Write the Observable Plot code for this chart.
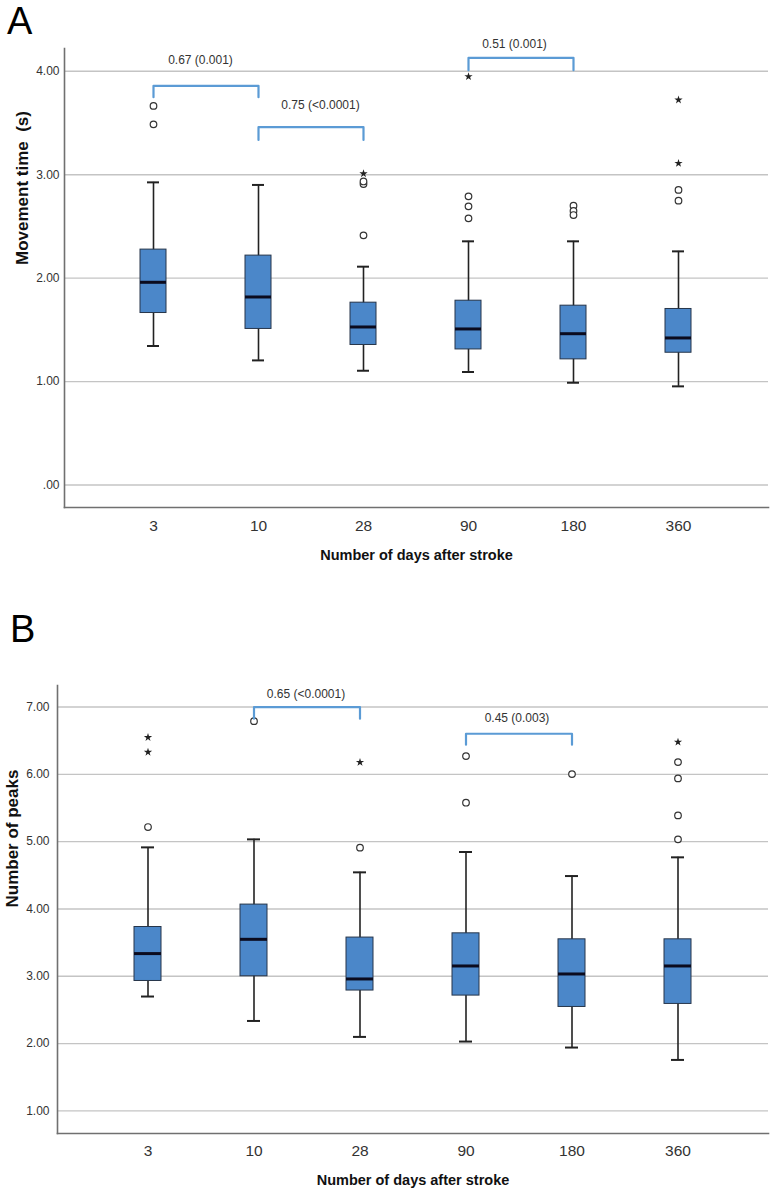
<!DOCTYPE html>
<html>
<head>
<meta charset="utf-8">
<script src="https://cdn.jsdelivr.net/npm/d3@7"></script>
<script src="https://cdn.jsdelivr.net/npm/@observablehq/plot@0.6"></script>
<style>
  body { margin: 0; background: #fff; font-family: "Liberation Sans", Arial, sans-serif; }
  .panel { position: relative; width: 773px; }
  .panel svg { display: block; }
  .letter { position: absolute; font-size: 38px; line-height: 38px; color: #000; font-family: "Liberation Sans", Arial, sans-serif; z-index: 2; }
</style>
</head>
<body>
<div id="panelA" class="panel"><div class="letter" style="left:7px;top:2px">A</div></div>
<div id="panelB" class="panel"><div class="letter" style="left:10px;top:30px">B</div></div>
<script>
// ---------- shared ----------
const days = ["3", "10", "28", "90", "180", "360"];
const xTitle = "Number of days after stroke";

// ---------- Panel A: Movement time (s) ----------
const mtTicks = [0, 1, 2, 3, 4];
const mtTickLabels = [".00", "1.00", "2.00", "3.00", "4.00"];
const mtLow    = [1.344, 1.205, 1.105, 1.093, 0.989, 0.954];
const mtQ1     = [1.663, 1.509, 1.354, 1.311, 1.215, 1.279];
const mtMedian = [1.960, 1.818, 1.528, 1.509, 1.463, 1.422];
const mtQ3     = [2.276, 2.218, 1.763, 1.782, 1.734, 1.702];
const mtHigh   = [2.926, 2.901, 2.111, 2.356, 2.356, 2.259];
const mtCircles = [["3", 3.665], ["3", 3.487], ["28", 2.414], ["28", 2.910], ["28", 2.935],
                   ["90", 2.791], ["90", 2.694], ["90", 2.578], ["180", 2.700], ["180", 2.650], ["180", 2.610],
                   ["360", 2.853], ["360", 2.749]];
const mtStars = [["28", 3.010], ["90", 3.949], ["360", 3.723], ["360", 3.110]];
const mtBrackets = [
  {from: "3", to: "10", top: 3.859, leg: 3.749, label: "0.67 (0.001)"},
  {from: "10", to: "28", top: 3.459, leg: 3.336, label: "0.75 (<0.0001)"},
  {from: "90", to: "180", top: 4.130, leg: 4.010, label: "0.51 (0.001)"}
];

// ---------- Panel B: Number of peaks ----------
const pkTicks = [1, 2, 3, 4, 5, 6, 7];
const pkTickLabels = ["1.00", "2.00", "3.00", "4.00", "5.00", "6.00", "7.00"];
const pkLow    = [2.699, 2.336, 2.099, 2.030, 1.941, 1.757];
const pkQ1     = [2.930, 3.000, 2.788, 2.713, 2.544, 2.589];
const pkMedian = [3.337, 3.549, 2.960, 3.153, 3.034, 3.153];
const pkQ3     = [3.732, 4.065, 3.575, 3.638, 3.549, 3.549];
const pkHigh   = [4.915, 5.034, 4.544, 4.846, 4.489, 4.767];
const pkCircles = [["3", 5.217], ["10", 6.790], ["28", 4.911], ["90", 6.271], ["90", 5.579],
                   ["180", 6.004], ["360", 6.182], ["360", 5.940], ["360", 5.390], ["360", 5.034]];
const pkStars = [["3", 6.549], ["3", 6.330], ["28", 6.180], ["360", 6.479]];
const pkBrackets = [
  {from: "10", to: "28", top: 7.000, leg: 6.826, label: "0.65 (<0.0001)"},
  {from: "90", to: "180", top: 6.603, leg: 6.440, label: "0.45 (0.003)"}
];

const FONT = "'Liberation Sans', Arial, sans-serif";
const BOX_FILL = "#4b87c9";
const BRACKET = "#5b9bd5";

function boxPanel(cfg) {
  const rows = days.map((d, i) => ({day: d, low: cfg.low[i], q1: cfg.q1[i], med: cfg.med[i], q3: cfg.q3[i], high: cfg.high[i]}));
  const pts = cfg.brackets.flatMap((b, k) => [
    {k, x: b.from, y: b.leg}, {k, x: b.from, y: b.top}, {k, x: b.to, y: b.top}, {k, x: b.to, y: b.leg}
  ]);
  const labelMarks = cfg.brackets.map((b, i) => Plot.text([b], {
    x: "from", y: "top", text: "label", dx: cfg.labelOffsets[i][0], dy: cfg.labelOffsets[i][1],
    fontSize: 12, fill: "#333", fontFamily: FONT
  }));
  return Plot.plot({
    width: 773,
    height: cfg.height,
    marginTop: cfg.marginTop,
    marginBottom: cfg.marginBottom,
    marginLeft: cfg.marginLeft,
    marginRight: 5,
    style: {fontFamily: FONT, background: "white", overflow: "visible"},
    x: {type: "band", domain: days, paddingInner: 0.75, paddingOuter: 0.71, label: null},
    y: {domain: cfg.domain, label: null},
    marks: [
      Plot.gridY(cfg.ticks, {stroke: "#c4c4c4", strokeOpacity: 1, strokeWidth: 1.4}),
      Plot.frame({anchor: "left", stroke: "#707070", strokeWidth: 1.6}),
      Plot.frame({anchor: "bottom", stroke: "#707070", strokeWidth: 1.6}),
      Plot.ruleX(rows, {x: "day", y1: "low", y2: "high", stroke: "#222", strokeWidth: 1.6}),
      Plot.tickY(rows, {x: "day", y: "low", insetLeft: 7, insetRight: 7, stroke: "#222", strokeWidth: 2}),
      Plot.tickY(rows, {x: "day", y: "high", insetLeft: 7, insetRight: 7, stroke: "#222", strokeWidth: 2}),
      Plot.barY(rows, {x: "day", y1: "q1", y2: "q3", fill: BOX_FILL, stroke: "#26354a", strokeWidth: 1}),
      Plot.tickY(rows, {x: "day", y: "med", stroke: "#0b0b1e", strokeWidth: 3}),
      Plot.dot(cfg.circles, {x: d => d[0], y: d => d[1], r: 3.3, stroke: "#333", fill: "white", strokeWidth: 1.2}),
      Plot.dot(cfg.stars, {x: d => d[0], y: d => d[1], symbol: "star", r: 2.6, fill: "#222", stroke: "none"}),
      Plot.line(pts, {x: "x", y: "y", z: "k", stroke: BRACKET, strokeWidth: 2.2, strokeLinejoin: "round"}),
      ...labelMarks,
      Plot.axisY({ticks: cfg.ticks, tickFormat: d => cfg.tickLabels[cfg.ticks.indexOf(d)], tickSize: 0,
                  tickPadding: cfg.tickPadY, fontSize: 12, fill: "#333", label: null}),
      Plot.axisX({tickSize: 0, tickPadding: cfg.tickPadX, fontSize: 15.5, fill: "#333", label: null}),
      Plot.text([cfg.yTitle], {text: d => d, frameAnchor: "left", rotate: -90, dx: cfg.yTitleDx, dy: cfg.yTitleDy,
                  fontWeight: "bold", fontSize: 17, fill: "#111", fontFamily: FONT}),
      Plot.text([xTitle], {text: d => d, frameAnchor: "bottom", dy: cfg.xTitleDy,
                  fontWeight: "bold", fontSize: 14.5, fill: "#111", fontFamily: FONT})
    ]
  });
}

document.getElementById("panelA").appendChild(boxPanel({
  height: 580, marginTop: 48, marginBottom: 73, marginLeft: 64,
  domain: [-0.217, 4.22], ticks: mtTicks, tickLabels: mtTickLabels,
  low: mtLow, q1: mtQ1, med: mtMedian, q3: mtQ3, high: mtHigh,
  circles: mtCircles, stars: mtStars, brackets: mtBrackets,
  labelOffsets: [[47, -26], [62, -22], [46, -14]],
  yTitle: "Movement time  (s)", yTitleDx: -42, yTitleDy: -13, xTitleDy: 52,
  tickPadY: 5, tickPadX: 12
}));

document.getElementById("panelB").appendChild(boxPanel({
  height: 621, marginTop: 105, marginBottom: 68, marginLeft: 57,
  domain: [0.664, 7.32], ticks: pkTicks, tickLabels: pkTickLabels,
  low: pkLow, q1: pkQ1, med: pkMedian, q3: pkQ3, high: pkHigh,
  circles: pkCircles, stars: pkStars, brackets: pkBrackets,
  labelOffsets: [[52, -13], [51, -16]],
  yTitle: "Number of peaks", yTitleDx: -45, yTitleDy: -2, xTitleDy: 51,
  tickPadY: 8, tickPadX: 11
}));
</script>
</body>
</html>
